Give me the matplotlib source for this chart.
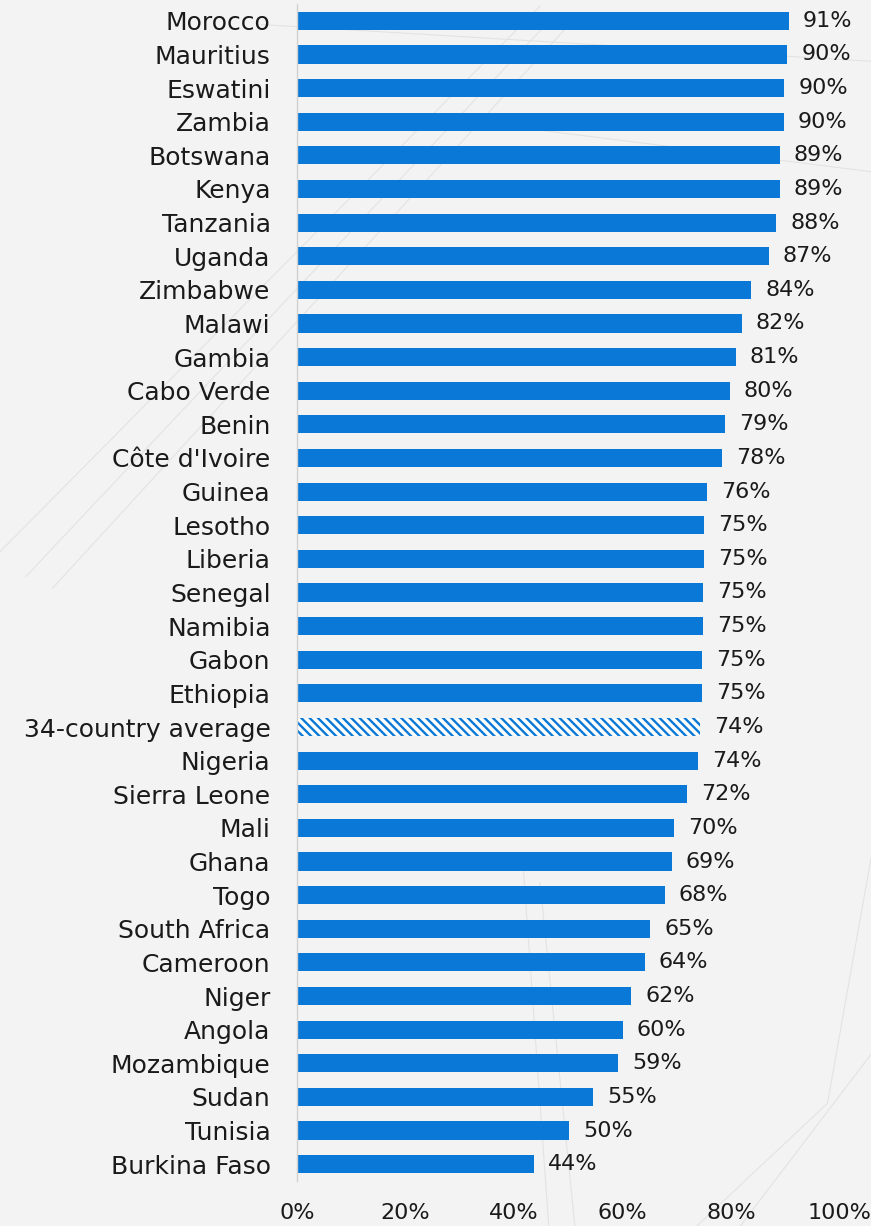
import matplotlib
matplotlib.use("Agg")
import matplotlib.pyplot as plt
from matplotlib.lines import Line2D

countries = [
    "Morocco", "Mauritius", "Eswatini", "Zambia", "Botswana", "Kenya",
    "Tanzania", "Uganda", "Zimbabwe", "Malawi", "Gambia", "Cabo Verde",
    "Benin", "Côte d'Ivoire", "Guinea", "Lesotho", "Liberia", "Senegal",
    "Namibia", "Gabon", "Ethiopia", "34-country average", "Nigeria",
    "Sierra Leone", "Mali", "Ghana", "Togo", "South Africa", "Cameroon",
    "Niger", "Angola", "Mozambique", "Sudan", "Tunisia", "Burkina Faso",
]
shares = [
    90.6, 90.3, 89.7, 89.6, 88.9, 88.9,
    88.2, 86.9, 83.7, 81.9, 80.8, 79.7,
    78.9, 78.2, 75.5, 74.9, 74.9, 74.7,
    74.7, 74.6, 74.6, 74.2, 73.8,
    71.9, 69.5, 69.0, 67.7, 65.1, 64.0,
    61.6, 60.0, 59.2, 54.6, 50.1, 43.6,
]
average_label = "34-country average"
x_ticks = [0, 20, 40, 60, 80, 100]

BLUE = "#0A78D6"
BG = "#F3F3F3"
TEXT = "#1A1A1A"
plt.rcParams["hatch.linewidth"] = 1.7
plt.rcParams["hatch.color"] = BLUE
plt.rcParams["font.family"] = ["DejaVu Sans"]

fig = plt.figure(figsize=(8.71, 12.26), dpi=100, facecolor=BG)

# faint decorative strokes in the background
deco = [
    ((0.00, 0.55), (0.62, 0.995)),
    ((0.03, 0.53), (0.64, 0.99)),
    ((0.06, 0.52), (0.66, 0.985)),
    ((0.30, 0.98), (1.00, 0.95)),
    ((0.55, 0.90), (1.00, 0.86)),
    ((0.80, 0.00), (0.95, 0.10)),
    ((0.95, 0.10), (1.00, 0.30)),
    ((0.85, 0.00), (1.00, 0.14)),
    ((0.63, 0.00), (0.60, 0.30)),
    ((0.66, 0.00), (0.62, 0.28)),
]
for (x0, y0), (x1, y1) in deco:
    fig.add_artist(Line2D([x0, x1], [y0, y1], transform=fig.transFigure,
                          color="#E3E3E3", lw=0.8, zorder=0))

ax = fig.add_axes([297 / 871, 1 - 1181 / 1226, (840 - 297) / 871, (1181 - 4) / 1226])
ax.set_facecolor("none")

ypos = list(range(len(countries)))
for y, name, val in zip(ypos, countries, shares):
    if name == average_label:
        # white base, then a hatched overlay in the bar colour
        ax.barh(y, val, height=0.54, color="white", linewidth=0, zorder=2)
        ax.barh(y, val, height=0.54, facecolor="none", edgecolor=BLUE,
                hatch="\\\\\\\\", linewidth=0.01, zorder=2.5)
    else:
        ax.barh(y, val, height=0.54, color=BLUE, linewidth=0, zorder=2)
    ax.text(val + 2.6, y, f"{round(val):.0f}%", va="center", ha="left",
            fontsize=16, color=TEXT, zorder=3)

ax.set_ylim(len(countries) - 0.5, -0.5)
ax.set_xlim(0, 100)
ax.set_yticks(ypos)
ax.set_yticklabels(countries, fontsize=18, color=TEXT)
ax.set_xticks(x_ticks)
ax.set_xticklabels([f"{t}%" for t in x_ticks], fontsize=16, color=TEXT)
ax.tick_params(axis="y", length=0, pad=19)
ax.tick_params(axis="x", length=0, pad=16)

for side in ("top", "right", "bottom"):
    ax.spines[side].set_visible(False)
ax.spines["left"].set_color("#D0D0D0")
ax.spines["left"].set_linewidth(1.0)

fig.savefig("out.png", dpi=100, facecolor=BG)
